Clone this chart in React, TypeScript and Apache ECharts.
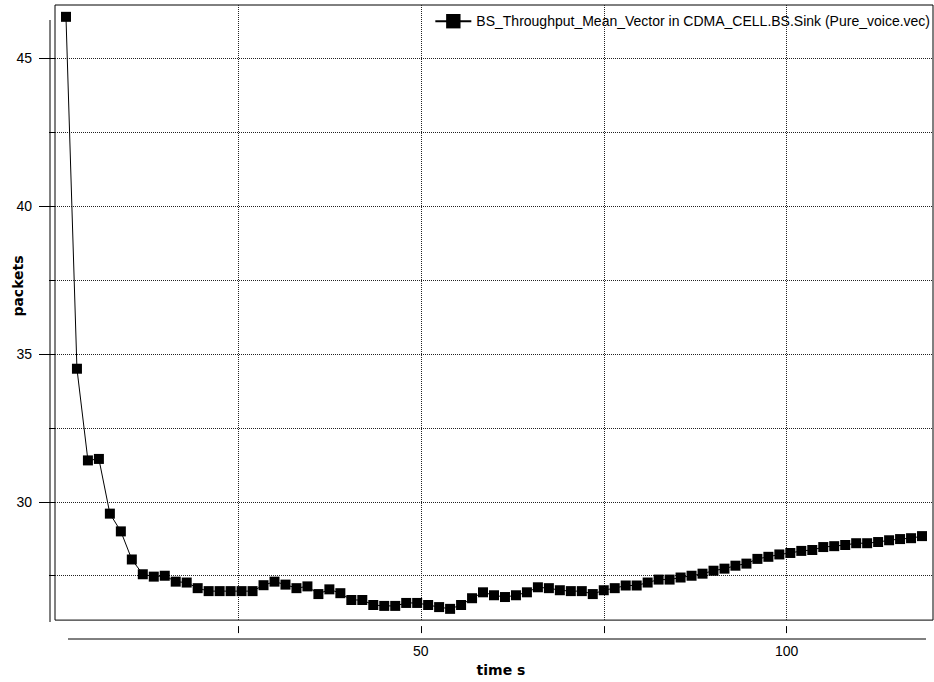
import React, { useEffect, useRef } from "react";
import * as echarts from "echarts";

const seriesName = "BS_Throughput_Mean_Vector in CDMA_CELL.BS.Sink (Pure_voice.vec)";

const times = [
  1.5, 3, 4.5, 6, 7.5, 9, 10.5, 12, 13.5, 15, 16.5, 18, 19.5, 21, 22.5, 24, 25.5, 27, 28.5, 30,
  31.5, 33, 34.5, 36, 37.5, 39, 40.5, 42, 43.5, 45, 46.5, 48, 49.5, 51, 52.5, 54, 55.5, 57, 58.5, 60,
  61.5, 63, 64.5, 66, 67.5, 69, 70.5, 72, 73.5, 75, 76.5, 78, 79.5, 81, 82.5, 84, 85.5, 87, 88.5, 90,
  91.5, 93, 94.5, 96, 97.5, 99, 100.5, 102, 103.5, 105, 106.5, 108, 109.5, 111, 112.5, 114, 115.5, 117, 118.5,
];

const packets = [
  46.4, 34.5, 31.4, 31.45, 29.6, 29.0, 28.05, 27.55, 27.47, 27.5,
  27.3, 27.27, 27.08, 26.98, 26.98, 26.98, 26.98, 26.98, 27.18, 27.3,
  27.2, 27.08, 27.14, 26.88, 27.04, 26.91, 26.68, 26.68, 26.51, 26.48,
  26.48, 26.58, 26.58, 26.51, 26.44, 26.38, 26.51, 26.74, 26.94, 26.84,
  26.78, 26.84, 26.94, 27.11, 27.08, 27.01, 26.98, 26.98, 26.88, 27.01,
  27.08, 27.17, 27.17, 27.27, 27.37, 27.37, 27.44, 27.5, 27.57, 27.67,
  27.74, 27.84, 27.91, 28.07, 28.14, 28.22, 28.27, 28.34, 28.37, 28.47,
  28.5, 28.54, 28.6, 28.6, 28.64, 28.7, 28.74, 28.77, 28.84,
];

const xTicks = [25, 50, 75, 100];
const xLabels = [50, 100];
const yTicks = [27.5, 30, 32.5, 35, 37.5, 40, 42.5, 45];
const yLabels = [30, 35, 40, 45];

const X_MIN = 0;
const X_MAX = 120;
const Y_MIN = 26;
const Y_MAX = 46.8;

const FONT = "'Liberation Sans', Arial, sans-serif";
const BOLD_FONT = "'DejaVu Sans', Verdana, sans-serif";

export default function App() {
  const ref = useRef<HTMLDivElement>(null);

  useEffect(() => {
    if (!ref.current) return;
    const chart = echarts.init(ref.current, null, { renderer: "svg" });
    const grid = { left: 55, top: 5, width: 878, height: 628 };
    const dotted = { color: "#222", width: 1, type: [1, 1] as any };

    chart.setOption({
      animation: false,
      backgroundColor: "#fff",
      grid: { ...grid, show: true, borderColor: "#000", borderWidth: 1, backgroundColor: "transparent" },
      legend: {
        right: 4,
        top: 14,
        padding: 0,
        itemWidth: 36,
        itemHeight: 18,
        textStyle: { fontFamily: FONT, fontSize: 14, color: "#000" },
        data: [seriesName],
      },
      xAxis: {
        type: "value",
        min: X_MIN,
        max: X_MAX,
        offset: 6,
        axisLine: { show: false },
        axisTick: { show: true, length: 7, customValues: xTicks, lineStyle: { color: "#000" } },
        axisLabel: {
          customValues: xLabels,
          margin: 18,
          fontFamily: FONT,
          fontSize: 14,
          color: "#000",
        },
        splitLine: { show: true, lineStyle: dotted },
        name: "time s",
        nameLocation: "middle",
        nameGap: 29,
        nameTextStyle: {
          fontFamily: BOLD_FONT,
          fontWeight: "bold",
          fontSize: 14,
          color: "#000",
          padding: [0, 0, 0, 14],
        },
      },
      yAxis: [
        {
          type: "value",
          position: "left",
          min: Y_MIN,
          max: Y_MAX,
          offset: 5,
          axisLine: { show: false },
          axisTick: { show: true, length: 6, customValues: yTicks, lineStyle: { color: "#000" } },
          axisLabel: {
            customValues: yLabels,
            margin: 18,
            fontFamily: FONT,
            fontSize: 14,
            color: "#000",
          },
          splitLine: { show: true, lineStyle: dotted },
        },
        {
          type: "value",
          position: "left",
          min: Y_MIN,
          max: Y_MAX,
          offset: 5,
          axisLine: { show: false },
          axisTick: { show: true, length: 11, customValues: yLabels, lineStyle: { color: "#000" } },
          axisLabel: { show: false },
          splitLine: { show: false },
        },
      ],
      series: [
        {
          name: seriesName,
          type: "line",
          yAxisIndex: 0,
          data: times.map((t, i) => [t, packets[i]]),
          symbol: "rect",
          symbolSize: 10,
          showSymbol: true,
          lineStyle: { color: "#000", width: 1 },
          itemStyle: { color: "#000" },
          color: "#000",
        },
      ],
      graphic: [
        {
          type: "line",
          shape: { x1: 50, y1: 20, x2: 50, y2: 622 },
          style: { stroke: "#000", lineWidth: 1 },
          silent: true,
        },
        {
          type: "line",
          shape: { x1: 68, y1: 639, x2: 926, y2: 639 },
          style: { stroke: "#000", lineWidth: 1 },
          silent: true,
        },
        {
          type: "text",
          x: 18,
          y: 286,
          rotation: Math.PI / 2,
          style: {
            text: "packets",
            fontFamily: BOLD_FONT,
            fontWeight: "bold",
            fontSize: 14,
            fill: "#000",
            align: "center",
            verticalAlign: "middle",
          },
          silent: true,
        },
      ],
    });

    return () => chart.dispose();
  }, []);

  return (
    <div
      ref={ref}
      style={{ position: "fixed", left: 0, top: 0, width: 934, height: 682, background: "#fff" }}
    />
  );
}
